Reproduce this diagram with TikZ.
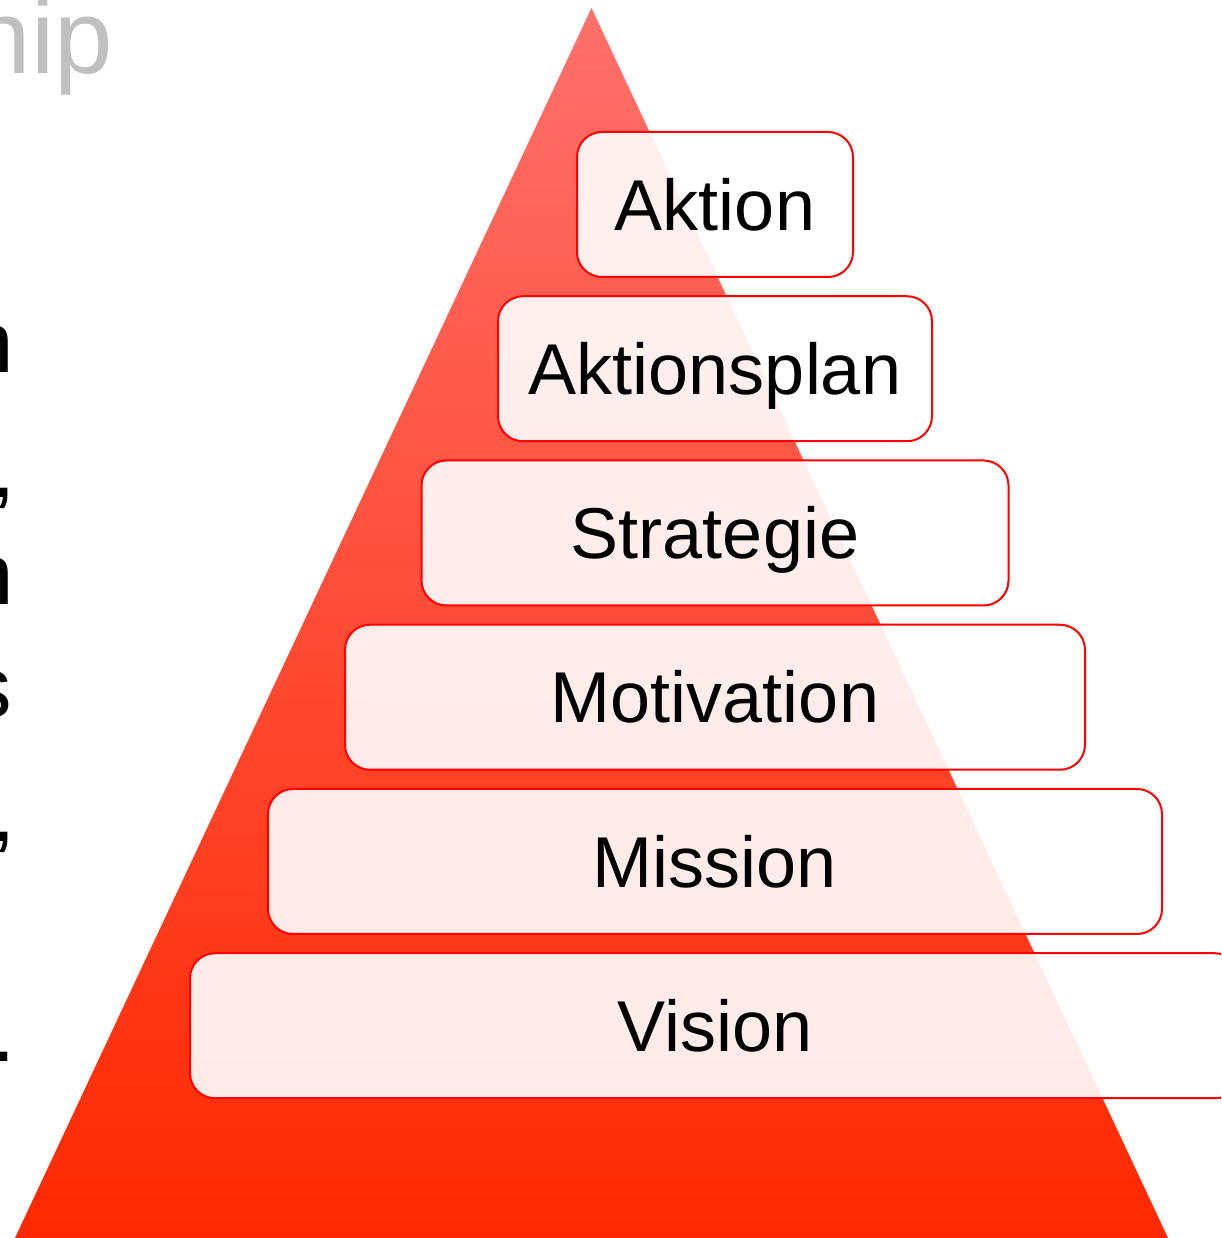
\documentclass[tikz,border=0pt]{standalone}
\usepackage{fontspec}
\setmainfont{Liberation Sans}
\definecolor{spitze}{RGB}{255,112,108}
\definecolor{sockel}{RGB}{255,40,0}
\definecolor{rahmen}{RGB}{255,0,0}
\definecolor{grau}{RGB}{192,192,192}
\begin{document}
\begin{tikzpicture}[x=1pt, y=1pt, node distance=164.25pt]
	\tikzstyle{stufe} = [draw=rahmen, line width=2pt, rounded corners=25pt, fill=white, fill opacity=0.9, text opacity=1, minimum height=145pt, inner sep=0pt, text height=51.5pt, text depth=0pt, font=\fontsize{72}{80}\selectfont];
	\tikzstyle{rest} = [anchor=base east, inner sep=0pt, font=\fontsize{87}{100}\selectfont];
	\useasboundingbox (0,0) rectangle (1221,1238);
	\clip (0,0) rectangle (1221,1238);

	% angeschnittener Text links
	\node[anchor=base east, inner sep=0pt, text=grau, font=\fontsize{105}{120}\selectfont] (titel) at (113,1164) {hip};
	\node[rest] (restA) at (14,865) {n};
	\node[rest] (restB) at (16,740) {,};
	\node[rest] (restC) at (14,633) {n};
	\node[rest] (restD) at (12,520) {s};
	\node[rest] (restE) at (16,396) {,};
	\node[rest] (restF) at (16,176) {.};

	% Pyramide
	\shade[top color=spitze, bottom color=sockel] (591.5,1230) -- (1168,0) -- (15,0) -- cycle;

	\node[stufe, minimum width=276pt] (aktion) at (715,1033.5) {Aktion};
	\node[stufe, minimum width=434pt, below of=aktion] (plan) {Aktionsplan};
	\node[stufe, minimum width=587pt, below of=plan] (strategie) {Strategie};
	\node[stufe, minimum width=740pt, below of=strategie] (motivation) {Motivation};
	\node[stufe, minimum width=894pt, below of=motivation] (mission) {Mission};
	\node[stufe, minimum width=1050pt, below of=mission] (vision) {Vision};
\end{tikzpicture}
\end{document}
